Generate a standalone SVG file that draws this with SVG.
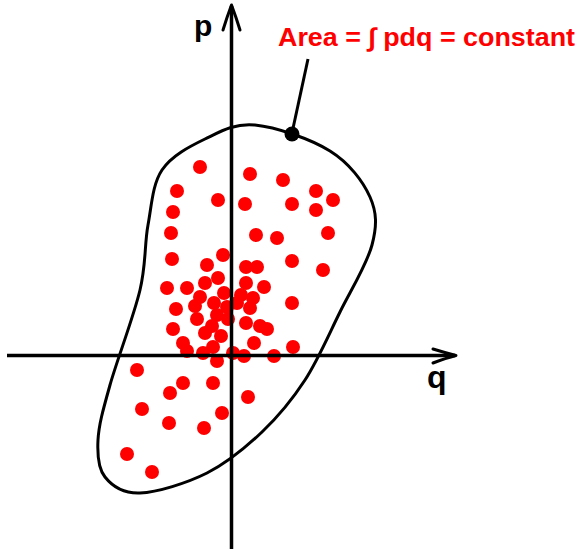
<svg xmlns="http://www.w3.org/2000/svg" width="579" height="550" viewBox="0 0 579 550">
<style>
.ax{stroke:#000;stroke-width:3.5;fill:none}
.ah{stroke:#000;stroke-width:3;fill:none;stroke-linecap:round;stroke-linejoin:round}
.cv{stroke:#000;stroke-width:3;fill:none}
.lbl{font-family:"Liberation Sans",Arial,sans-serif;font-weight:bold}
#dots circle{fill:#ff0000}
</style>
<rect width="579" height="550" fill="#fff"/>
<g id="region">
<path class="cv" d="M255,125 C275.8,127 310.8,139 330,151 C349.2,163 363,181.3 370,197 C377,212.7 377,225.8 372,245 C367,264.2 351.2,289.5 340,312 C328.8,334.5 318,360 305,380 C292,400 278.3,416.5 262,432 C245.7,447.5 227.3,462.8 207,473 C186.7,483.2 157,492.3 140,493 C123,493.7 112,485.8 105,477 C98,468.2 97.2,455.3 98,440 C98.8,424.7 103,410 110,385 C117,360 133.7,316.7 140,290 C146.3,263.3 144.3,245 148,225 C151.7,205 152.5,184.3 162,170 C171.5,155.7 189.5,146.5 205,139 C220.5,131.5 234.2,123 255,125 Z"/>
</g>
<g id="dots">
<circle cx="200" cy="167" r="7"/><circle cx="250" cy="174" r="7"/><circle cx="283" cy="180" r="7"/><circle cx="316" cy="191" r="7"/><circle cx="333" cy="200" r="7"/>
<circle cx="177" cy="191" r="7"/><circle cx="218" cy="200" r="7"/><circle cx="245" cy="204" r="7"/><circle cx="292" cy="204" r="7"/><circle cx="316" cy="210" r="7"/>
<circle cx="173" cy="212" r="7"/><circle cx="171" cy="233" r="7"/><circle cx="256" cy="235" r="7"/><circle cx="277" cy="238" r="7"/><circle cx="328" cy="233" r="7"/>
<circle cx="172" cy="259" r="7"/><circle cx="223" cy="255" r="7"/><circle cx="207" cy="265" r="7"/><circle cx="292" cy="261" r="7"/><circle cx="246" cy="267" r="7"/>
<circle cx="257" cy="267" r="7"/><circle cx="323" cy="270" r="7"/><circle cx="167" cy="288" r="7"/><circle cx="187" cy="288" r="7"/><circle cx="205" cy="283" r="7"/>
<circle cx="218" cy="278" r="7"/><circle cx="246" cy="283" r="7"/><circle cx="264" cy="287" r="7"/><circle cx="200" cy="297" r="7"/><circle cx="224" cy="293" r="7"/>
<circle cx="241" cy="295" r="7"/><circle cx="253" cy="298" r="7"/><circle cx="195" cy="306" r="7"/><circle cx="214" cy="303" r="7"/><circle cx="227" cy="307" r="7"/>
<circle cx="237" cy="303" r="7"/><circle cx="250" cy="308" r="7"/><circle cx="292" cy="303" r="7"/><circle cx="176" cy="309" r="7"/><circle cx="197" cy="319" r="7"/>
<circle cx="217" cy="315" r="7"/><circle cx="228" cy="319" r="7"/><circle cx="246" cy="323" r="7"/><circle cx="260" cy="326" r="7"/><circle cx="267" cy="329" r="7"/>
<circle cx="173" cy="329" r="7"/><circle cx="212" cy="326" r="7"/><circle cx="205" cy="333" r="7"/><circle cx="221" cy="336" r="7"/><circle cx="254" cy="343" r="7"/>
<circle cx="183" cy="343" r="7"/><circle cx="187" cy="351" r="7"/><circle cx="213" cy="347" r="7"/><circle cx="203" cy="353" r="7"/><circle cx="233" cy="353" r="7"/>
<circle cx="244" cy="356" r="7"/><circle cx="274" cy="356" r="7"/><circle cx="293" cy="347" r="7"/><circle cx="217" cy="361" r="7"/><circle cx="137" cy="370" r="7"/>
<circle cx="183" cy="383" r="7"/><circle cx="213" cy="383" r="7"/><circle cx="170" cy="393" r="7"/><circle cx="248" cy="397" r="7"/><circle cx="142" cy="409" r="7"/>
<circle cx="222" cy="413" r="7"/><circle cx="169" cy="423" r="7"/><circle cx="204" cy="428" r="7"/><circle cx="127" cy="454" r="7"/><circle cx="152" cy="472" r="7"/>
</g>
<g id="axes">
<line class="ax" x1="7" y1="355.5" x2="455" y2="355.5"/>
<path class="ah" d="M433,349 Q446,353 456,355.5 Q446,358 433,363"/>
<line class="ax" x1="231.5" y1="549" x2="231.5" y2="6"/>
<path class="ah" d="M223,30 Q227,17 231.5,5 Q236,17 240,30"/>
<text class="lbl" x="194" y="36" font-size="30" fill="#000">p</text>
<text class="lbl" x="427" y="388" font-size="32" fill="#000">q</text>
</g>
<g id="annotation">
<line x1="308" y1="59" x2="292" y2="133" stroke="#000" stroke-width="3"/>
<circle cx="292" cy="134" r="7.5" fill="#000"/>
<text class="lbl" x="278" y="46" font-size="26" fill="#ff0000" textLength="297" lengthAdjust="spacingAndGlyphs">Area = ∫ pdq = constant</text>
</g>
</svg>
